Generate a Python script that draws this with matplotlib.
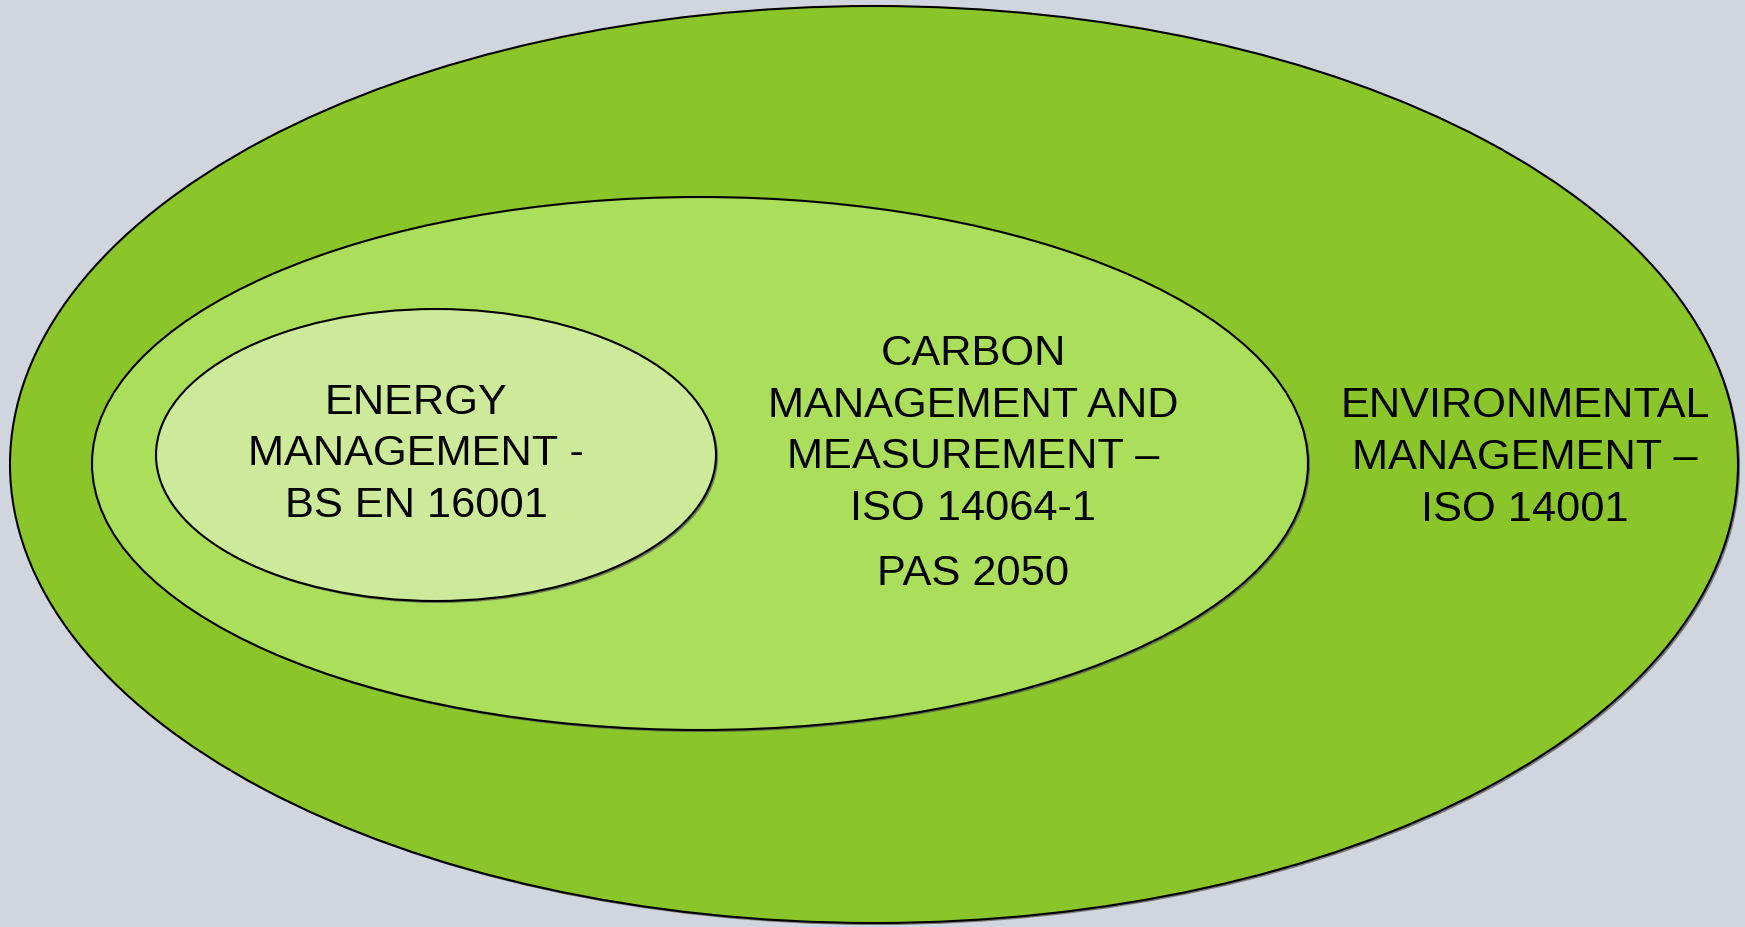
import matplotlib.pyplot as plt
from matplotlib.patches import Ellipse
import matplotlib.patheffects as pe

# labels, one list of lines per ring
energy_lines = ["ENERGY", "MANAGEMENT -", "BS EN 16001"]
carbon_lines = ["CARBON", "MANAGEMENT AND", "MEASUREMENT \u2013", "ISO 14064-1", "PAS 2050"]
env_lines = ["ENVIRONMENTAL", "MANAGEMENT \u2013", "ISO 14001"]

W, H = 1745, 927
BG = "#d1d5dd"

fig = plt.figure(figsize=(W / 100, H / 100), dpi=100, facecolor=BG)
ax = fig.add_axes([0, 0, 1, 1])
ax.set_xlim(0, W)
ax.set_ylim(H, 0)
ax.set_facecolor(BG)
ax.axis("off")

shadow = [pe.SimplePatchShadow(offset=(1.5, -1.5), shadow_rgbFace="#555555", alpha=0.7), pe.Normal()]

# outer -> inner: (cx, cy, width, height, colour)
rings = [
    (874, 464.5, 1728, 917, "#8ac52a"),
    (700, 463.5, 1216, 533, "#aade5b"),
    (436, 455, 560, 292, "#cdea9a"),
]
for cx, cy, w, h, col in rings:
    e = Ellipse((cx, cy), w, h, facecolor=col, edgecolor="black", lw=1.5)
    e.set_path_effects(shadow)
    ax.add_patch(e)

font = dict(family=["Liberation Sans", "DejaVu Sans"], fontsize=31.2, color="black",
            ha="center", va="baseline")

def put_lines(x, baselines, lines):
    for y, line in zip(baselines, lines):
        ax.text(x, y, line, **font)

put_lines(416, [414, 465, 517], energy_lines)
put_lines(973, [365, 417, 468, 520, 585], carbon_lines)
put_lines(1525, [417, 469, 521], env_lines)

fig.savefig("out.png", dpi=100, facecolor=BG)
plt.close(fig)
